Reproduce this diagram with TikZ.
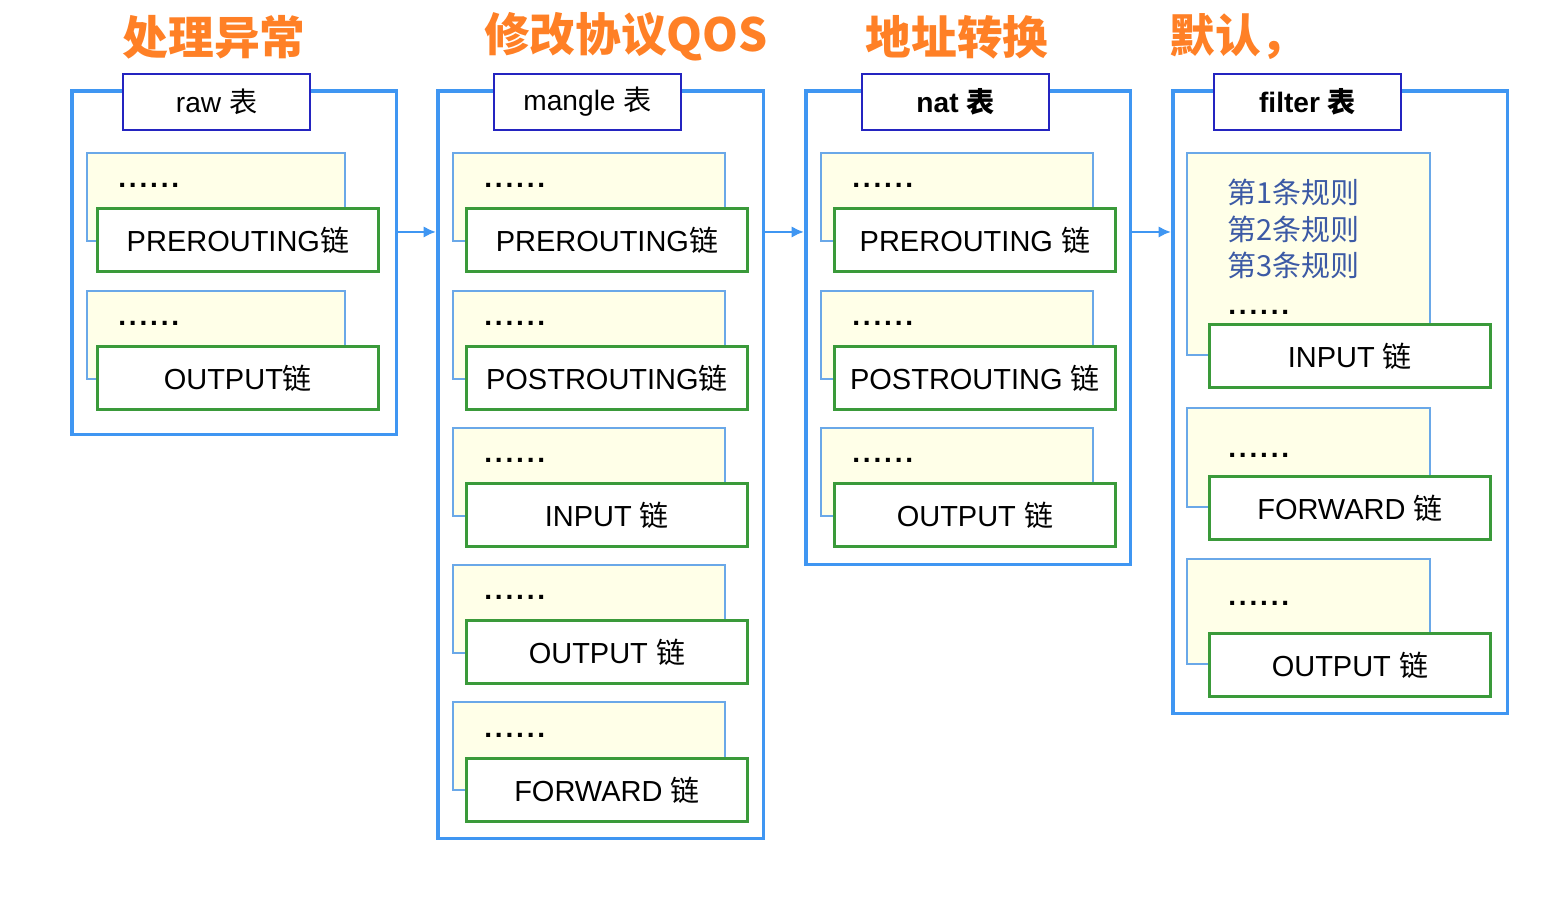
\documentclass[tikz,border=0pt]{standalone}
\usepackage{fontspec}
\usetikzlibrary{arrows.meta}
\setmainfont{Liberation Sans}
\newfontfamily\cjk{Noto Sans CJK SC}
\definecolor{tblue}{HTML}{3F96F2}
\definecolor{hblue}{HTML}{2424C0}
\definecolor{cgreen}{HTML}{3A9A3A}
\definecolor{yline}{HTML}{6AA8E8}
\definecolor{yfill}{HTML}{FFFFE8}
\definecolor{torange}{HTML}{FF8026}
\definecolor{rblue}{HTML}{3C5AA5}
\newcommand{\lian}{{\cjk 链}}
\newcommand{\biao}{{\cjk 表}}
\newcommand{\dotrow}{.\kern1.6pt.\kern1.6pt.\kern1.6pt.\kern1.6pt.\kern1.6pt.}

\begin{document}
\begin{tikzpicture}[x=0.02cm, y=-0.02cm,
        frame/.style={draw=tblue, line width=2pt, anchor=north west, inner sep=0},
        head/.style={draw=hblue, fill=white, line width=1.6pt, minimum width=3.74cm,
            minimum height=1.12cm, inner sep=0, font=\fontsize{16}{19}\selectfont},
        yel/.style={draw=yline, fill=yfill, line width=1.1pt, anchor=north west,
            minimum height=1.76cm, inner sep=0},
        chain/.style={draw=cgreen, fill=white, line width=1.6pt, anchor=north west,
            minimum width=5.62cm, minimum height=1.26cm, inner sep=0,
            font=\fontsize{16.5}{20}\selectfont},
        dots/.style={anchor=west, inner sep=0, font=\bfseries\fontsize{16}{19}\selectfont},
        tag/.style={text=torange, font=\cjk\bfseries\fontsize{26}{30}\selectfont},
        rules/.style={anchor=west, align=left, inner sep=0, text=rblue,
            font=\cjk\fontsize{16.5}{21}\selectfont},
        flow/.style={draw=tblue, line width=1.5pt, -{Latex[length=7pt,width=6.5pt]}}]
        \useasboundingbox (0,0) rectangle (1545,905);

        % titles
        \node[tag] (tagraw) at (214,37) {处理异常};
        \node[tag] (tagmangle) at (626,37) {修改协议QOS};
        \node[tag] (tagnat) at (957,37) {地址转换};
        \node[tag] (tagfilter) at (1238,37) {默认，};

        % raw
        \node[frame, minimum width=6.5cm, minimum height=6.88cm] (raw) at (70,89) {};
        \node[head] (rawhead) at (216.5,102) {raw \biao};
        \node[yel, minimum width=5.16cm] (rawy1) at (86,152) {};
        \node[dots] (rawd1) at (118,185) {\dotrow};
        \node[chain] (rawpre) at (96,207) {PREROUTING\lian};
        \node[yel, minimum width=5.16cm] (rawy2) at (86,290) {};
        \node[dots] (rawd2) at (118,323) {\dotrow};
        \node[chain] (rawout) at (96,345) {OUTPUT\lian};

        % mangle
        \node[frame, minimum width=6.52cm, minimum height=14.96cm] (mangle) at (436,89) {};
        \node[head] (manglehead) at (587.5,102) {mangle \biao};
        \node[yel, minimum width=5.44cm] (mangley1) at (452,152) {};
        \node[dots] (mangled1) at (484,185) {\dotrow};
        \node[chain] (manglepre) at (465,207) {PREROUTING\lian};
        \node[yel, minimum width=5.44cm] (mangley2) at (452,290) {};
        \node[dots] (mangled2) at (484,323) {\dotrow};
        \node[chain] (manglepost) at (465,345) {POSTROUTING\lian};
        \node[yel, minimum width=5.44cm] (mangley3) at (452,427) {};
        \node[dots] (mangled3) at (484,460) {\dotrow};
        \node[chain] (manglein) at (465,482) {INPUT \lian};
        \node[yel, minimum width=5.44cm] (mangley4) at (452,564) {};
        \node[dots] (mangled4) at (484,597) {\dotrow};
        \node[chain] (mangleout) at (465,619) {OUTPUT \lian};
        \node[yel, minimum width=5.44cm] (mangley5) at (452,701) {};
        \node[dots] (mangled5) at (484,735) {\dotrow};
        \node[chain] (manglefwd) at (465,757) {FORWARD \lian};

        % nat
        \node[frame, minimum width=6.5cm, minimum height=9.48cm] (nat) at (804,89) {};
        \node[head] (nathead) at (955.5,102) {\bfseries nat \biao};
        \node[yel, minimum width=5.44cm] (naty1) at (820,152) {};
        \node[dots] (natd1) at (852,185) {\dotrow};
        \node[chain] (natpre) at (833,207) {PREROUTING \lian};
        \node[yel, minimum width=5.44cm] (naty2) at (820,290) {};
        \node[dots] (natd2) at (852,323) {\dotrow};
        \node[chain] (natpost) at (833,345) {POSTROUTING \lian};
        \node[yel, minimum width=5.44cm] (naty3) at (820,427) {};
        \node[dots] (natd3) at (852,460) {\dotrow};
        \node[chain] (natout) at (833,482) {OUTPUT \lian};

        % filter
        \node[frame, minimum width=6.7cm, minimum height=12.46cm] (filter) at (1171,89) {};
        \node[head] (filterhead) at (1307.5,102) {\bfseries filter \biao};
        \node[yel, minimum width=4.86cm, minimum height=4.04cm] (filtery1) at (1186,152) {};
        \node[rules] (filterrules) at (1227,229) {第1条规则\\第2条规则\\第3条规则};
        \node[dots] (filterd1) at (1228,312) {\dotrow};
        \node[chain] (filterin) at (1208,323) {INPUT \lian};
        \node[yel, minimum width=4.86cm, minimum height=1.98cm] (filtery2) at (1186,407) {};
        \node[dots] (filterd2) at (1228,455) {\dotrow};
        \node[chain] (filterfwd) at (1208,475) {FORWARD \lian};
        \node[yel, minimum width=4.86cm, minimum height=2.1cm] (filtery3) at (1186,558) {};
        \node[dots] (filterd3) at (1228,603) {\dotrow};
        \node[chain] (filterout) at (1208,632) {OUTPUT \lian};

        \draw[flow] ([yshift=-2.86cm]raw.north east) -- ([yshift=-2.86cm]mangle.north west);
        \draw[flow] ([yshift=-2.86cm]mangle.north east) -- ([yshift=-2.86cm]nat.north west);
        \draw[flow] ([yshift=-2.86cm]nat.north east) -- ([yshift=-2.86cm]filter.north west);
    \end{tikzpicture}
\end{document}
